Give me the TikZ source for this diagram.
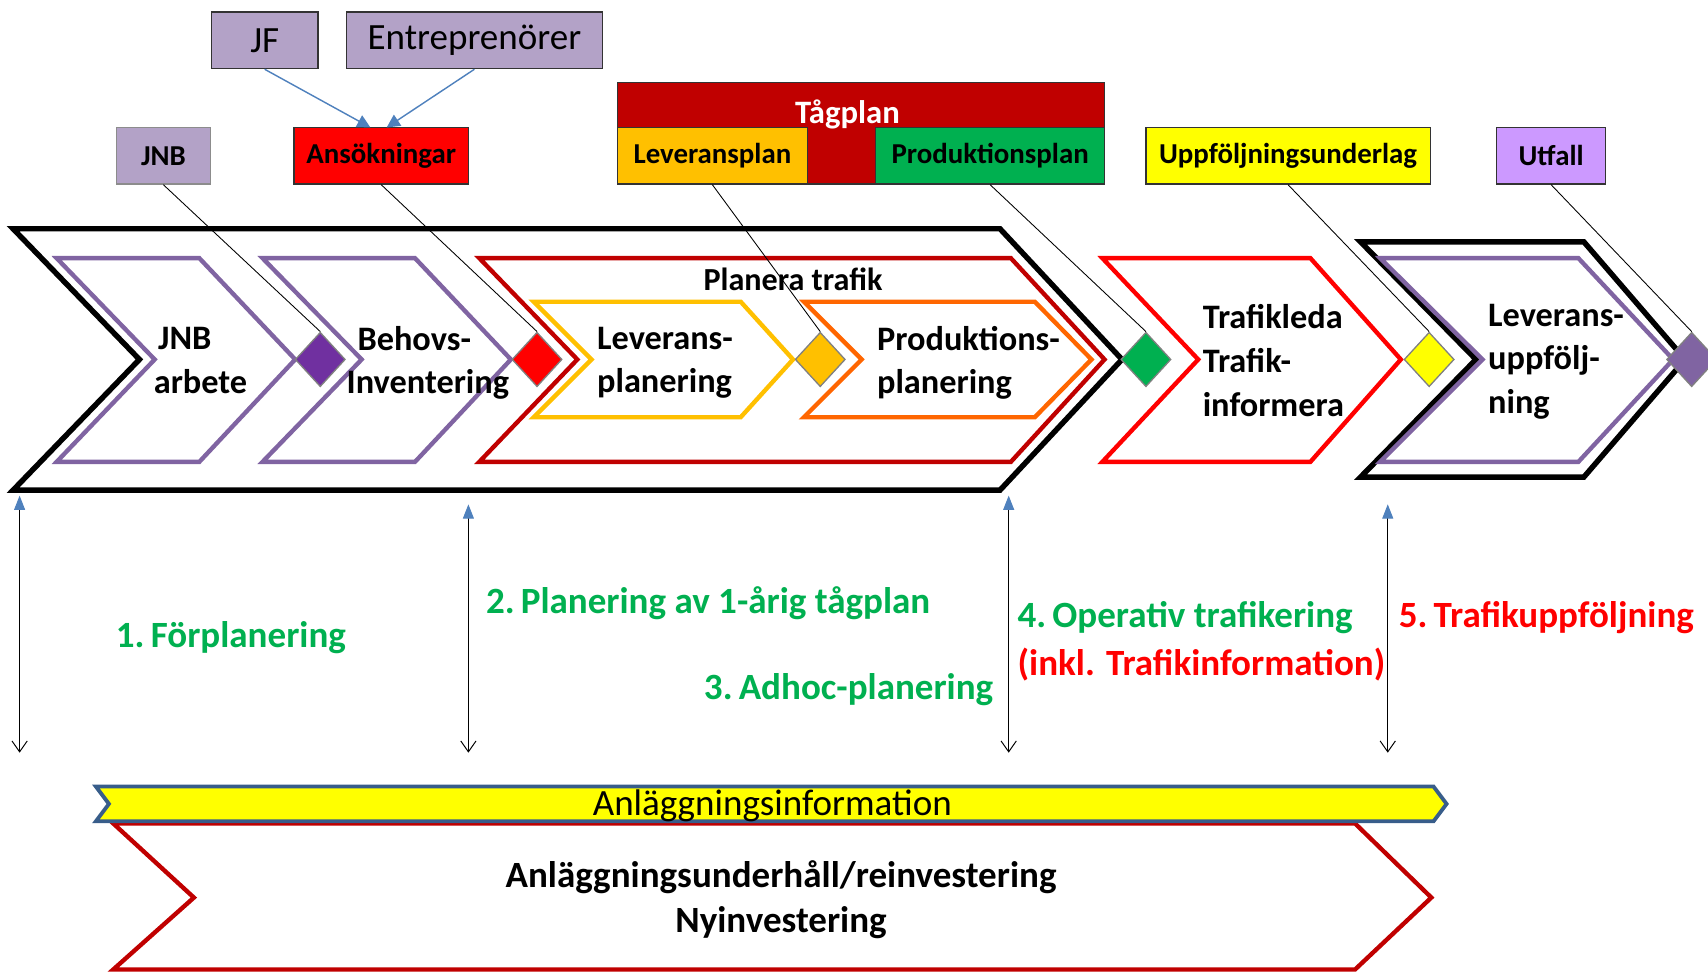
\documentclass[tikz,border=0pt]{standalone}
\usepackage{fontspec}
\setmainfont{Carlito}
\usetikzlibrary{shapes.geometric,arrows.meta}
\definecolor{lav}{HTML}{B3A2C7}
\definecolor{purp}{HTML}{8064A2}
\definecolor{dpurp}{HTML}{7030A0}
\definecolor{dred}{HTML}{C00000}
\definecolor{gold}{HTML}{FFC000}
\definecolor{orng}{HTML}{FF6600}
\definecolor{grn}{HTML}{00B050}
\definecolor{ylw}{HTML}{FFFF00}
\definecolor{lilac}{HTML}{CC99FF}
\definecolor{arrblue}{HTML}{4F81BD}
\definecolor{bnblue}{HTML}{385D8A}
\begin{document}
\begin{tikzpicture}[x=1pt,y=-1pt,
  topbox/.style={draw=black!80, line width=1.2pt, inner sep=0pt, minimum height=52pt, font=\fontsize{26.5}{30}\selectfont\bfseries},
  bigbox/.style={draw=black!80, line width=1.2pt, inner sep=0pt, minimum height=52pt, fill=lav, font=\fontsize{34}{40}\selectfont},
  dia/.style={diamond, draw=black!50, line width=1.2pt, minimum width=46pt, minimum height=50pt, inner sep=0pt},
  conn/.style={line width=0.8pt, black},
  bluearr/.style={line width=1.3pt, arrblue, -{Triangle[length=12pt,width=12pt]}},
  varrow/.style={line width=0.9pt, black, {Triangle[length=13pt,width=10pt,color=arrblue]}-{Straight Barb[length=10pt,width=14pt]}},
  chevk/.style={line width=5pt, black, line join=miter},
  chevp/.style={line width=4pt, purp, line join=miter},
  ctext/.style={font=\fontsize{31.5}{40}\selectfont\bfseries, align=left, inner sep=0pt},
  gtext/.style={font=\fontsize{34}{40}\selectfont\bfseries, inner sep=0pt},
]
\clip (0,0) rectangle (1568,893);
\fill[white] (0,0) rectangle (1568,893);

% ---- main black chevron
\draw[chevk] (12,210) -- (918,210) -- (1030,330) -- (918,450) -- (12,450) -- (128,330) -- cycle;
% purple chevrons
\draw[chevp] (52,237) -- (183,237) -- (271,330) -- (183,424) -- (52,424) -- (142,330) -- cycle;
\draw[chevp] (241,237) -- (381,237) -- (469,330) -- (381,424) -- (241,424) -- (332,330) -- cycle;
% Planera trafik chevron
\draw[line width=4pt, dred, line join=miter] (440,237) -- (928,237) -- (1014,330) -- (928,424) -- (440,424) -- (530,330) -- cycle;
% Leverans / Produktions
\draw[line width=4pt, gold, line join=miter] (490,277) -- (680,277) -- (728,330) -- (680,383) -- (490,383) -- (543,330) -- cycle;
\draw[line width=4pt, orng, line join=miter] (738,277) -- (950,277) -- (1002,330) -- (950,383) -- (738,383) -- (791,330) -- cycle;
% Trafikleda chevron
\draw[line width=4pt, red, line join=miter] (1012,237) -- (1203,237) -- (1286,330) -- (1203,424) -- (1012,424) -- (1100,330) -- cycle;
% last black + purple chevron
\draw[chevk] (1249,222) -- (1454,222) -- (1547,330) -- (1454,438) -- (1249,438) -- (1355,330) -- cycle;
\draw[chevp] (1267,237) -- (1449,237) -- (1536,330) -- (1449,424) -- (1267,424) -- (1361,330) -- cycle;

% ---- chevron texts
\node[ctext, anchor=west] (tjnb) at (141,331) {\hspace*{4pt}JNB\\arbete};
\node[ctext, anchor=west] (tbeh) at (318,333) {\hspace*{10pt}Behovs-\\Inventering};
\node[font=\fontsize{29.5}{34}\selectfont\bfseries, inner sep=0pt, anchor=base] (tplan) at (728,267) {Planera trafik};
\node[ctext, anchor=west] (tlev) at (548,333) {Leverans-\\planering};
\node[ctext, anchor=west] (tprod) at (805,333) {Produktions-\\planering};
\node[ctext, anchor=west] (ttraf) at (1104,331) {Trafikleda\\Trafik-\\informera};
\node[ctext, anchor=west] (tuppf) at (1366,332) {Leverans-\\uppfölj-\\ning};

% ---- top boxes
\node[bigbox, minimum width=98pt] (jf) at (243,37) {JF};
\node[bigbox, minimum width=235pt] (entr) at (435.5,37) {Entreprenörer};
\node[topbox, fill=lav, draw=black!45, minimum width=86pt] (jnbbox) at (150,143) {JNB};
\node[topbox, fill=red, minimum width=160pt] (ans) at (350,143) {Ansökningar};
\fill[dred] (567,76) rectangle (1014,169);
\node[font=\fontsize{30}{34}\selectfont\bfseries, text=white, inner sep=0pt, anchor=base] (tag) at (778,113) {Tågplan};
\node[topbox, fill=gold, minimum width=174pt] (levp) at (654,143) {Leveransplan};
\node[topbox, fill=grn, minimum width=210pt] (prodp) at (909,143) {Produktionsplan};
\draw[black!80, line width=1.2pt] (567,76) rectangle (1014,169);
\node[topbox, fill=ylw, minimum width=261pt] (uppf) at (1182.5,143) {Uppföljningsunderlag};
\node[topbox, fill=lilac, minimum width=100pt] (utf) at (1424,143) {Utfall};

% ---- blue arrows to Ansökningar
\coordinate (ansL) at (340,117);
\coordinate (ansR) at (355,117);
\draw[bluearr] (jf.south) -- (ansL);
\draw[bluearr] (entr.south) -- (ansR);

% ---- diamonds and connectors
\node[dia, fill=dpurp] (d1) at (294,330) {};
\node[dia, fill=red] (d2) at (493,330) {};
\node[dia, fill=gold] (d3) at (753,330) {};
\node[dia, fill=grn] (d4) at (1052,330) {};
\node[dia, fill=ylw] (d5) at (1312,330) {};
\node[dia, fill=purp] (d6) at (1553,330) {};
\draw[conn] (jnbbox.south) -- (d1.north);
\draw[conn] (ans.south) -- (d2.north);
\draw[conn] (levp.south) -- (d3.north);
\draw[conn] (prodp.south) -- (d4.north);
\draw[conn] (uppf.south) -- (d5.north);
\draw[conn] (utf.south) -- (d6.north);

% ---- vertical arrows
\coordinate (v1t) at (18,455);  \coordinate (v1b) at (18,691);
\coordinate (v2t) at (430,463); \coordinate (v2b) at (430,691);
\coordinate (v3t) at (926,455); \coordinate (v3b) at (926,691);
\coordinate (v4t) at (1274,463);\coordinate (v4b) at (1274,691);
\draw[varrow] (v1t) -- (v1b);
\draw[varrow] (v2t) -- (v2b);
\draw[varrow] (v3t) -- (v3b);
\draw[varrow] (v4t) -- (v4b);

% ---- phase texts
\node[gtext, text=grn, anchor=base] (p1) at (212,594) {1.\,Förplanering};
\node[gtext, text=grn, anchor=base west] (p2) at (446,563) {2.\,Planering av 1-årig tågplan};
\node[gtext, text=grn, anchor=base east] (p3) at (912,642) {3.\,Adhoc-planering};
\node[gtext, text=grn, anchor=base west] (p4) at (934,576) {4.\,Operativ trafikering};
\node[gtext, text=red, anchor=base west] (p4b) at (934,620) {(inkl. Trafikinformation)};
\node[gtext, text=red, anchor=base west] (p5) at (1284,576) {5.\,Trafikuppföljning};

% ---- bottom
\draw[line width=4pt, dred, line join=miter] (104,756) -- (1244,756) -- (1314,824) -- (1244,890) -- (104,890) -- (178,824) -- cycle;
\draw[line width=3.5pt, bnblue, fill=ylw, line join=miter] (88,722) -- (1316,722) -- (1328,738) -- (1316,754) -- (88,754) -- (100,738) -- cycle;
\node[font=\fontsize{34}{40}\selectfont, inner sep=0pt, anchor=base] (anlinfo) at (709,749) {Anläggningsinformation};
\node[font=\fontsize{34}{41}\selectfont\bfseries, inner sep=0pt, align=center] (anlund) at (717,826) {Anläggningsunderhåll/reinvestering\\Nyinvestering};
\end{tikzpicture}
\end{document}
